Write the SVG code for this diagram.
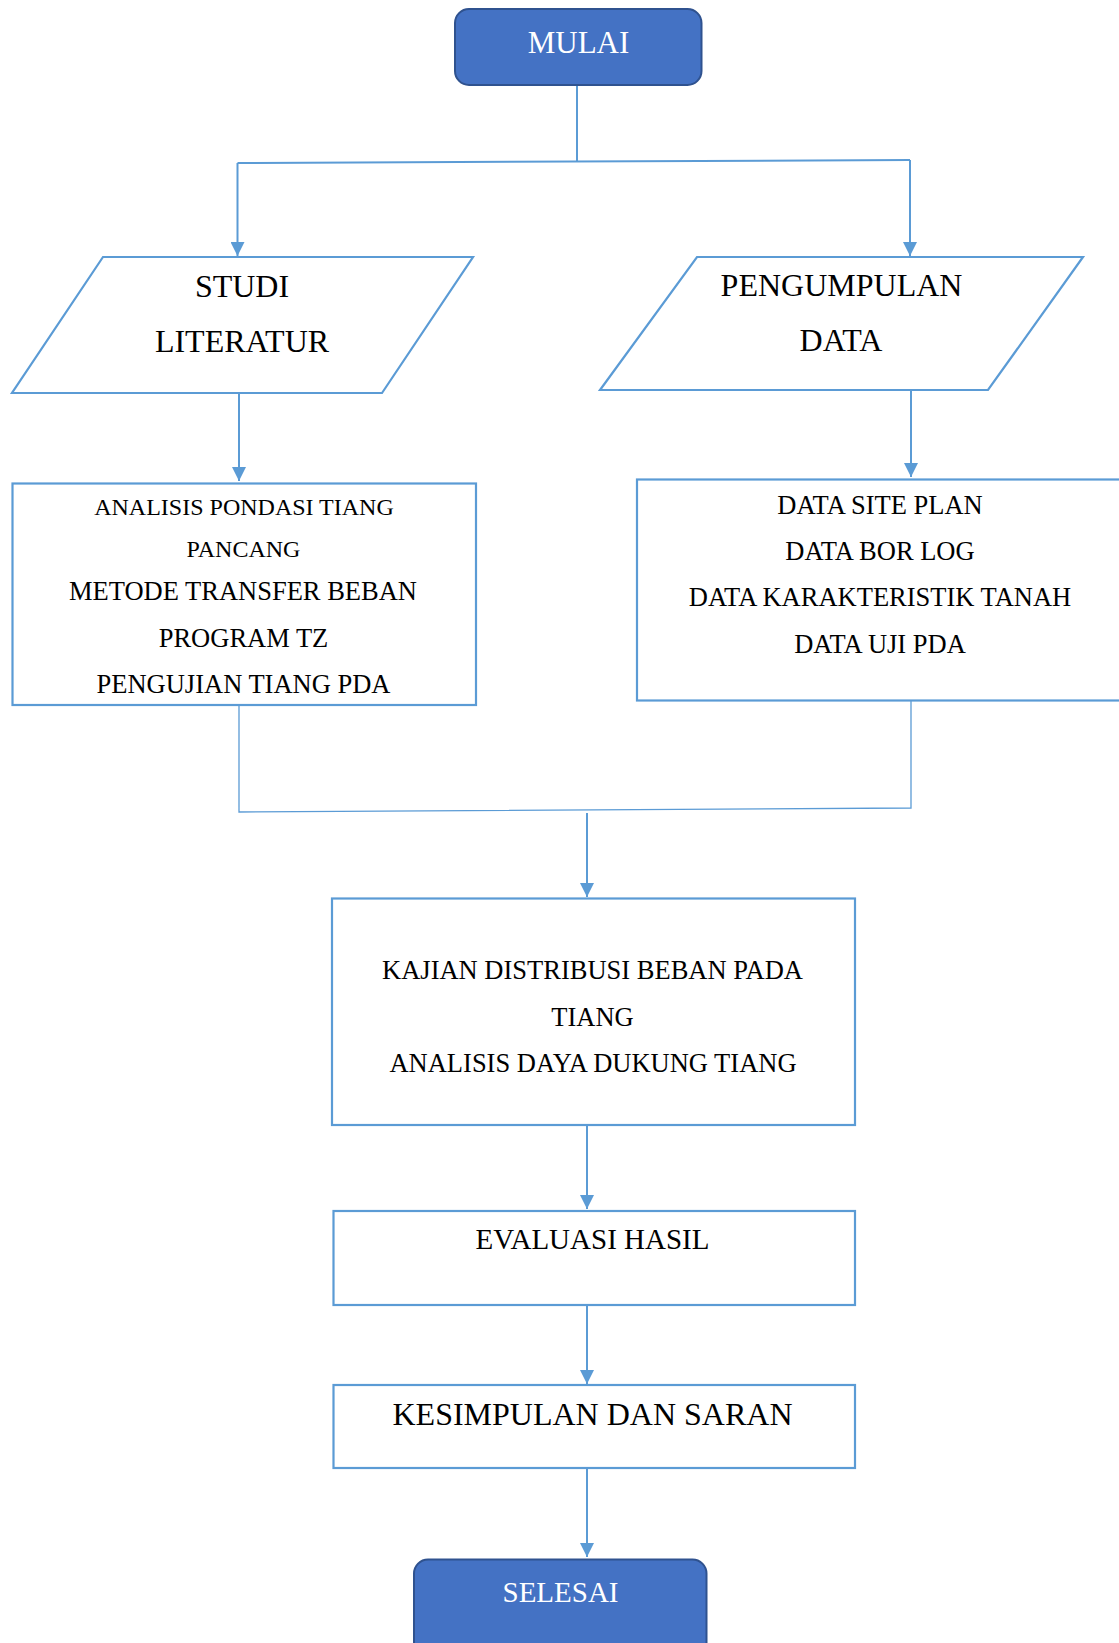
<svg xmlns="http://www.w3.org/2000/svg" width="1119" height="1643" viewBox="0 0 1119 1643">
<defs>
<marker id="arr" markerUnits="userSpaceOnUse" markerWidth="15" markerHeight="14" refX="14" refY="7" orient="auto">
<path d="M0,0 L14,7 L0,14 z" fill="#5B9BD5"/>
</marker>
<style>
.conn{fill:none;stroke:#5B9BD5;stroke-width:2}
.thin{fill:none;stroke:#5B9BD5;stroke-width:1.3}
.box{fill:#fff;stroke:#5B9BD5;stroke-width:2.2}
.term{fill:#4472C4;stroke:#2F528F;stroke-width:2}
.t{font-family:"Liberation Serif","Times New Roman",serif;fill:#000;text-anchor:middle}
.tw{font-family:"Liberation Serif","Times New Roman",serif;fill:#fff;text-anchor:middle}
</style>
</defs>
<rect width="1119" height="1643" fill="#fff"/>
<g id="connectors">
<path class="conn" d="M577,85 V161"/>
<path class="conn" d="M237.5,163 L910,160"/>
<path class="conn" d="M237.5,163 V256" marker-end="url(#arr)"/>
<path class="conn" d="M910,160 V256" marker-end="url(#arr)"/>
<path class="conn" d="M239,393 V481" marker-end="url(#arr)"/>
<path class="conn" d="M911,389 V477" marker-end="url(#arr)"/>
<path class="thin" d="M239,705 V812 L911,808 V700"/>
<path class="conn" d="M587,813 V897" marker-end="url(#arr)"/>
<path class="conn" d="M587,1125 V1209" marker-end="url(#arr)"/>
<path class="conn" d="M587,1305 V1384" marker-end="url(#arr)"/>
<path class="conn" d="M587,1468 V1557" marker-end="url(#arr)"/>
</g>
<g id="mulai">
<rect class="term" x="455" y="9" width="246.5" height="76" rx="14"/>
<text class="tw" x="578.5" y="53" font-size="31">MULAI</text>
</g>
<g id="studi-literatur">
<polygon class="box" points="103,257 473,257 382,393 12,393"/>
<text class="t" x="242" y="297" font-size="32">STUDI</text>
<text class="t" x="242" y="352" font-size="32">LITERATUR</text>
</g>
<g id="pengumpulan-data">
<polygon class="box" points="697,257 1083,257 988,390 600,390"/>
<text class="t" x="841.5" y="296" font-size="32">PENGUMPULAN</text>
<text class="t" x="841" y="351" font-size="32">DATA</text>
</g>
<g id="analisis">
<rect class="box" x="12.5" y="483.5" width="463.5" height="221.5"/>
<text class="t" x="244" y="515" font-size="24">ANALISIS PONDASI TIANG</text>
<text class="t" x="243.5" y="557" font-size="24">PANCANG</text>
<text class="t" x="243" y="600" font-size="26.5">METODE TRANSFER BEBAN</text>
<text class="t" x="243.5" y="647" font-size="26.5">PROGRAM TZ</text>
<text class="t" x="243.5" y="693" font-size="26.5">PENGUJIAN TIANG PDA</text>
</g>
<g id="data">
<rect class="box" x="637" y="479.5" width="486" height="221"/>
<text class="t" x="880" y="514" font-size="26.5">DATA SITE PLAN</text>
<text class="t" x="880" y="560" font-size="26.5">DATA BOR LOG</text>
<text class="t" x="880" y="606" font-size="26.5">DATA KARAKTERISTIK TANAH</text>
<text class="t" x="880" y="652.5" font-size="26.5">DATA UJI PDA</text>
</g>
<g id="kajian">
<rect class="box" x="332" y="898.5" width="523" height="226.5"/>
<text class="t" x="592.5" y="979" font-size="26.5">KAJIAN DISTRIBUSI BEBAN PADA</text>
<text class="t" x="592.5" y="1025.5" font-size="26.5">TIANG</text>
<text class="t" x="593" y="1071.5" font-size="26.5">ANALISIS DAYA DUKUNG TIANG</text>
</g>
<g id="evaluasi">
<rect class="box" x="333.5" y="1211" width="521.5" height="94"/>
<text class="t" x="592.5" y="1248.5" font-size="29">EVALUASI HASIL</text>
</g>
<g id="kesimpulan">
<rect class="box" x="333.5" y="1385" width="521.5" height="83"/>
<text class="t" x="592.5" y="1424.5" font-size="32">KESIMPULAN DAN SARAN</text>
</g>
<g id="selesai">
<rect class="term" x="414" y="1559.5" width="292.5" height="100" rx="14"/>
<text class="tw" x="560.5" y="1601.5" font-size="29">SELESAI</text>
</g>
</svg>
